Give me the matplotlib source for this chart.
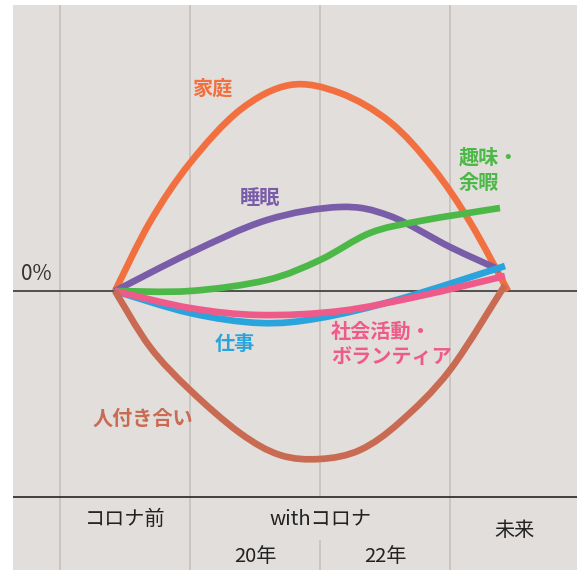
import matplotlib
matplotlib.use("Agg")
import matplotlib.pyplot as plt
from matplotlib.path import Path
from matplotlib.patches import PathPatch
import numpy as np

plt.rcParams['font.family'] = ['Noto Sans CJK JP', 'DejaVu Sans']

# ---- data (in pixel space, converted below) ----
px_to_x = lambda p: (np.asarray(p, dtype=float) - 60) / 130.0
py_to_y = lambda p: (291 - np.asarray(p, dtype=float)) / 10.0

home_x = [115, 150, 190, 240, 290, 340, 390, 433, 470, 508]
home_y = [291, 222, 163, 110, 85, 93, 122, 168, 222, 291]

sleep_x = [115, 190, 267, 340, 390, 450, 500]
sleep_y = [291, 253, 220, 207, 216, 247, 270]

hobby_x = [115, 190, 267, 320, 370, 420, 500]
hobby_y = [291, 291, 280, 260, 233, 221, 208]

work_x = [115, 190, 260, 320, 400, 505]
work_y = [291, 313, 323, 318, 299, 266]

social_x = [115, 190, 260, 340, 420, 505]
social_y = [291, 308, 315, 311, 296, 276]

people_x = [115, 150, 190, 240, 280, 320, 360, 400, 450, 505]
people_y = [291, 347, 390, 433, 455, 459, 450, 422, 370, 285]

series = [
    ("家庭", home_x, home_y, "#F2703F"),
    ("睡眠", sleep_x, sleep_y, "#7A5DA9"),
    ("趣味・余暇", hobby_x, hobby_y, "#4CB848"),
    ("仕事", work_x, work_y, "#2AA4DC"),
    ("社会活動・ボランティア", social_x, social_y, "#EE5B8B"),
    ("人付き合い", people_x, people_y, "#C96B53"),
]

period_labels = ["コロナ前", "withコロナ", "未来"]
year_labels = ["20年", "22年"]


def smooth_path(xs, ys):
    """Catmull-Rom curve through the read points, drawn as Bezier segments."""
    P = np.column_stack([xs, ys])
    n = len(P)
    verts = [P[0]]
    codes = [Path.MOVETO]
    for i in range(n - 1):
        p0 = P[i - 1] if i > 0 else P[i]
        p1, p2 = P[i], P[i + 1]
        p3 = P[i + 2] if i + 2 < n else P[i + 1]
        c1 = p1 + (p2 - p0) / 6.0
        c2 = p2 - (p3 - p1) / 6.0
        verts += [c1, c2, p2]
        codes += [Path.CURVE4] * 3
    return Path(verts, codes)


# ---- figure ----
W, H = 577, 570
fig = plt.figure(figsize=(W / 100, H / 100), dpi=100)
fig.patch.set_facecolor("white")
ax = fig.add_axes([13 / W, 0, (W - 13) / W, (H - 5) / H])
ax.set_facecolor("#E2DEDB")
ax.set_xlim(px_to_x(13), px_to_x(577))
ax.set_ylim(py_to_y(570), py_to_y(5))
for s in ax.spines.values():
    s.set_visible(False)
ax.set_xticks([]); ax.set_yticks([])

grid_c = "#C9C3BF"
bottom_y = py_to_y(497)
for gx in [0, 1, 3]:
    ax.axvline(gx, color=grid_c, lw=1.3, zorder=1)
ax.plot([2, 2], [bottom_y, py_to_y(5)], color=grid_c, lw=1.3, zorder=1)
ax.plot([2, 2], [py_to_y(541), py_to_y(570)], color=grid_c, lw=1.3, zorder=1)

ax.axhline(0, color="#444444", lw=1.3, zorder=2)
ax.axhline(bottom_y, color="#333333", lw=1.3, zorder=2)

for name, xs, ys, c in series:
    path = smooth_path(px_to_x(xs), py_to_y(ys))
    ax.add_patch(PathPatch(path, facecolor="none", edgecolor=c, lw=4.8,
                           capstyle="butt", joinstyle="round", zorder=3))

lab_kw = dict(fontsize=14.5, fontweight="bold")
ax.text(px_to_x(212), py_to_y(88), "家庭", color="#F2703F", ha="center", va="center", **lab_kw)
ax.text(px_to_x(260), py_to_y(197), "睡眠", color="#7A5DA9", ha="center", va="center", **lab_kw)
ax.text(px_to_x(459), py_to_y(170), "趣味・\n余暇", color="#4CB848", ha="left", va="center",
        linespacing=1.25, **lab_kw)
ax.text(px_to_x(235), py_to_y(343), "仕事", color="#2AA4DC", ha="center", va="center", **lab_kw)
ax.text(px_to_x(331), py_to_y(344), "社会活動・\nボランティア", color="#EE5B8B", ha="left",
        va="center", linespacing=1.25, **lab_kw)
ax.text(px_to_x(143), py_to_y(418), "人付き合い", color="#C96B53", ha="center", va="center", **lab_kw)

ax.text(px_to_x(36), py_to_y(274), "0%", color="#333333", fontsize=15, ha="center", va="center")

tick_c = "#222222"
ax.text(px_to_x(125), py_to_y(519), period_labels[0], color=tick_c, fontsize=14.5, ha="center", va="center")
ax.text(px_to_x(320), py_to_y(519), period_labels[1], color=tick_c, fontsize=14.5, ha="center", va="center")
ax.text(px_to_x(514), py_to_y(531), period_labels[2], color=tick_c, fontsize=14.5, ha="center", va="center")
ax.text(px_to_x(255), py_to_y(556), year_labels[0], color=tick_c, fontsize=14.5, ha="center", va="center")
ax.text(px_to_x(385), py_to_y(556), year_labels[1], color=tick_c, fontsize=14.5, ha="center", va="center")

fig.savefig("out.png", dpi=100, facecolor=fig.get_facecolor())
